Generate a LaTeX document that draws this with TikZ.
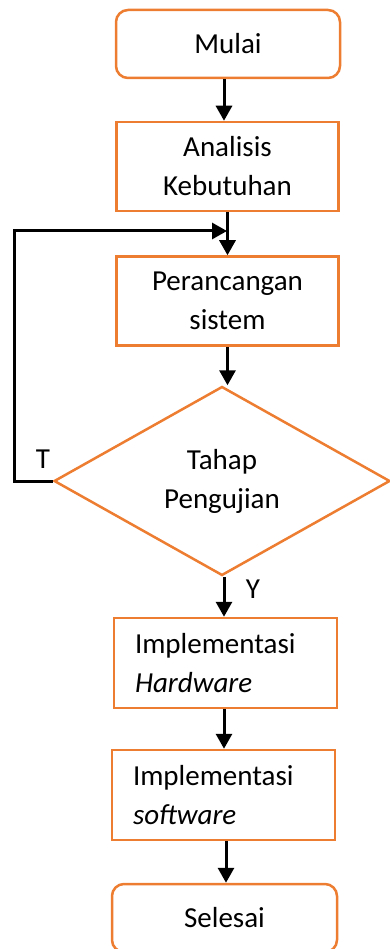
\documentclass[tikz,border=0pt]{standalone}
\usepackage{fontspec}
\setmainfont{Carlito}
\usetikzlibrary{shapes.geometric,arrows.meta,calc}
\definecolor{boxorange}{HTML}{ED7D31}
\begin{document}
\begin{tikzpicture}[x=1pt,y=-1pt,
  every node/.style={font=\fontsize{29}{39}\selectfont},
  proc/.style={draw=boxorange,line width=2.5pt,rectangle,minimum width=222pt,
    minimum height=89pt,align=center,inner sep=0pt},
  term/.style={proc,rounded corners=12pt,minimum width=224pt,minimum height=68pt},
  impl/.style={draw=boxorange,line width=2.5pt,rectangle,text width=181pt,
    inner xsep=21pt,inner ysep=0pt,minimum height=90pt,align=left},
  decision/.style={draw=boxorange,line width=2.5pt,diamond,minimum width=336pt,
    minimum height=189pt,inner sep=0pt,align=center},
  arr/.style={line width=3pt,-{Triangle[width=16pt,length=15pt]}},
  lbl/.style={inner sep=0pt}]
\useasboundingbox (0,0) rectangle (390,949);

% boxes
\node[term] (mulai) at (228,44) {Mulai};
\node[proc] (analisis) at (227.5,166.5) {Analisis\\Kebutuhan};
\node[proc] (rancang) at (227.5,301) {Perancangan\\sistem};
\node[decision] (uji) at (222,481) {Tahap\\Pengujian};
\node[impl] (hw) at (225.5,663) {Implementasi\\\textit{Hardware}};
\node[impl] (sw) at (223.5,795) {Implementasi\\\textit{software}};
\node[term,minimum width=225pt] (selesai) at (224.5,918) {Selesai};

% labels of the decision
\node[lbl] (tlabel) at (43,459) {T};
\node[lbl] (ylabel) at (253,589) {Y};

% main flow
\draw[arr] ([xshift=-4pt]mulai.south) -- ([xshift=-4pt]mulai.south |- analisis.north);
\draw[arr] (analisis.south) -- (analisis.south |- rancang.north);
\draw[arr] (rancang.south) -- (rancang.south |- uji.north);
\draw[arr] ([xshift=2pt]uji.south) -- ([xshift=2pt]uji.south |- hw.north);
\draw[arr] ([xshift=-1.5pt]hw.south) -- ([xshift=-1.5pt]hw.south |- sw.north);
\draw[arr] ([xshift=2.5pt]sw.south) -- ([xshift=2.5pt]sw.south |- selesai.north);

% feedback loop from the test back to the design step
\coordinate (fbcorner) at (14,481);
\coordinate (fbin) at (227,231);
\draw[arr] (uji.west) -- (fbcorner) |- (fbin);
\end{tikzpicture}
\end{document}
